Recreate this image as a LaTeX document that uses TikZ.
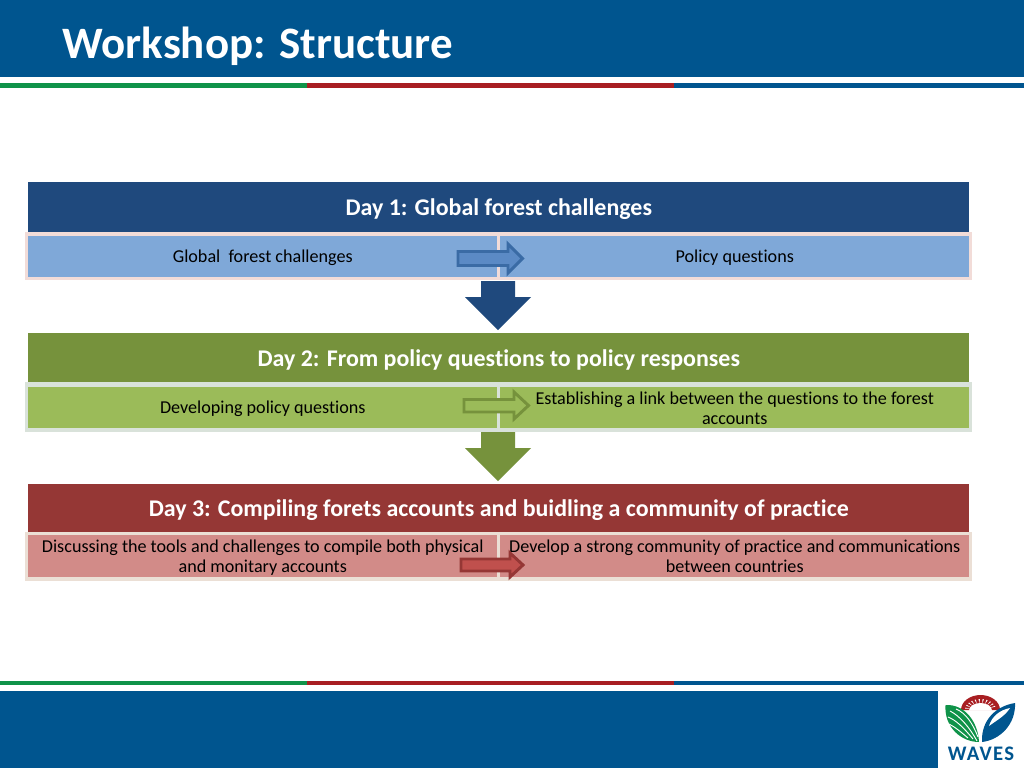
\documentclass[tikz,border=0pt]{standalone}
\usepackage{fontspec}
\setmainfont[Ligatures=NoCommon]{Carlito}
\definecolor{band}{HTML}{00558F}
\definecolor{lgreen}{HTML}{0F9349}
\definecolor{lred}{HTML}{A81E22}
\definecolor{blueD}{HTML}{1F497D}
\definecolor{blueL}{HTML}{7FA8D8}
\definecolor{blueA}{HTML}{5B8AC5}
\definecolor{blueS}{HTML}{3A6BA5}
\definecolor{blueF}{HTML}{F2DCD8}
\definecolor{greenD}{HTML}{76923C}
\definecolor{greenL}{HTML}{9BBB59}
\definecolor{greenF}{HTML}{D9E2DA}
\definecolor{redD}{HTML}{953735}
\definecolor{redL}{HTML}{D28B88}
\definecolor{redA}{HTML}{C0504D}
\definecolor{redF}{HTML}{EBDFD5}
\newcommand{\hstrut}{\rule{0pt}{16pt}}
\newcommand{\cstrut}{\rule{0pt}{11.5pt}}
\tikzset{
  x=0.75pt,y=-0.75pt,
  header/.style={draw=none,minimum width=705.75pt,inner sep=0pt,anchor=north west,text=white,font=\fontsize{17.95}{21}\selectfont\bfseries},
  cell/.style={draw=none,minimum width=351.75pt,inner sep=0pt,anchor=north west,align=center,text=black,font=\fontsize{13.6}{15}\selectfont},
  frame/.style={draw=none,minimum width=710.25pt,inner sep=0pt,anchor=north west},
  sidearrow/.style={line width=2.2pt,line join=miter},
}
\begin{document}
\begin{tikzpicture}
\useasboundingbox (0,0) rectangle (1024,768);
\fill[white] (0,0) rectangle (1024,768);
% top band
\fill[band] (0,0) rectangle (1024,76.5);
\node[anchor=west,inner sep=0pt,text=white,font=\fontsize{33.7}{38}\selectfont\bfseries] (title) at (62.5,46.5) {Workshop: Structure};
\fill[lgreen] (0,83) rectangle (307,88);
\fill[lred] (307,83) rectangle (674,88);
\fill[band] (674,83) rectangle (1024,88);
% bottom band
\fill[lgreen] (0,680.5) rectangle (307,685);
\fill[lred] (307,680.5) rectangle (674,685);
\fill[band] (674,680.5) rectangle (1024,685);
\fill[band] (0,691) rectangle (938,768);
% day 1
\node[header,fill=blueD,minimum height=37.5pt] (ha) at (28,182) {\hstrut Day 1: Global forest challenges};
\node[frame,fill=blueF,minimum height=36pt] (fa) at (25,232) {};
\node[cell,fill=blueL,minimum height=30.75pt] (la) at (28,236) {\cstrut Global\ \ forest challenges};
\node[cell,fill=blueL,minimum height=30.75pt] (ra) at (500,236) {\cstrut Policy questions};
% day 2
\node[header,fill=greenD,minimum height=36.75pt] (hb) at (28,333) {\hstrut Day 2: From policy questions to policy responses};
\node[frame,fill=greenF,minimum height=37.5pt] (fb) at (25,382) {};
\node[cell,fill=greenL,minimum height=30.75pt] (lb) at (28,387) {\cstrut Developing policy questions};
\node[cell,fill=greenL,minimum height=30.75pt] (rb) at (500,387) {Establishing a link between the questions to the forest\\accounts};
% day 3
\node[header,fill=redD,minimum height=36pt] (hc) at (28,484) {\hstrut Day 3: Compiling forets accounts and buidling a community of practice};
\node[frame,fill=redF,minimum height=36.75pt] (fc) at (25,532) {};
\node[cell,fill=redL,minimum height=31.5pt] (lc) at (28,535) {\rule{0pt}{11.5pt}Discussing the tools and challenges to compile both physical\\and monitary accounts};
\node[cell,fill=redL,minimum height=31.5pt] (rc) at (500,535) {Develop a strong community of practice and communications\\between countries};
% side block arrows
\draw[sidearrow,fill=blueA,draw=blueS] (458,251.5) -- (508,251.5) -- (508,244) -- (522.5,258.5) -- (508,273) -- (508,265.5) -- (458,265.5) -- cycle;
\draw[sidearrow,fill=greenL,draw=greenD] (464,399.5) -- (514,399.5) -- (514,392) -- (528.5,405.5) -- (514,419) -- (514,412) -- (464,412) -- cycle;
\draw[sidearrow,fill=redA,draw=redD] (461,559) -- (510,559) -- (510,553) -- (523,565) -- (510,577) -- (510,571) -- (461,571) -- cycle;
% down block arrows
\fill[blueD] (481,281) -- (515,281) -- (515,297) -- (531,297) -- (498,330) -- (465,297) -- (481,297) -- cycle;
\fill[greenD] (481,432) -- (515,432) -- (515,448) -- (531,448) -- (498,481) -- (465,448) -- (481,448) -- cycle;
% logo
\fill[lred] (961,710) arc (180:360:19.5 and 15) -- cycle;
\fill[white] (969,710.5) arc (180:360:11.5 and 7.5) -- cycle;
\foreach \a in {190,205,...,350}{
  \fill[white] ({980.5+10.5*cos(\a)},{710+6.5*sin(\a)}) -- ({980.5+15.5*cos(\a-2.5)},{710+11*sin(\a-2.5)}) -- ({980.5+15.5*cos(\a+2.5)},{710+11*sin(\a+2.5)}) -- cycle;
}
% left leaf
\fill[lgreen] (945.5,705) .. controls (965,704) and (978,722) .. (979,742) .. controls (962,742) and (944,728) .. (945.5,705) -- cycle;
\draw[white,line width=0.7pt] (950,711) .. controls (960,716) and (970,728) .. (977,741);
\draw[white,line width=0.7pt] (948,717) .. controls (956,720) and (964,728) .. (973,739);
\draw[white,line width=0.7pt] (949,724) .. controls (955,727) and (961,732) .. (968,738);
\draw[white,line width=0.7pt] (956,709) .. controls (966,713) and (973,724) .. (978,737);
% right fish
\fill[band] (1015,703) .. controls (996,706) and (981,720) .. (982,742) .. controls (1000,740) and (1016,724) .. (1015,703) -- cycle;
\fill[white] (1010,708) .. controls (1000,710) and (992,716) .. (989,726) .. controls (997,720) and (1005,716) .. (1010,708) -- cycle;
\node[inner sep=0pt,text=band,font=\fontsize{15.5}{18}\selectfont\bfseries\addfontfeature{LetterSpace=6}] (waves) at (981,754) {WAVES};
\end{tikzpicture}
\end{document}
